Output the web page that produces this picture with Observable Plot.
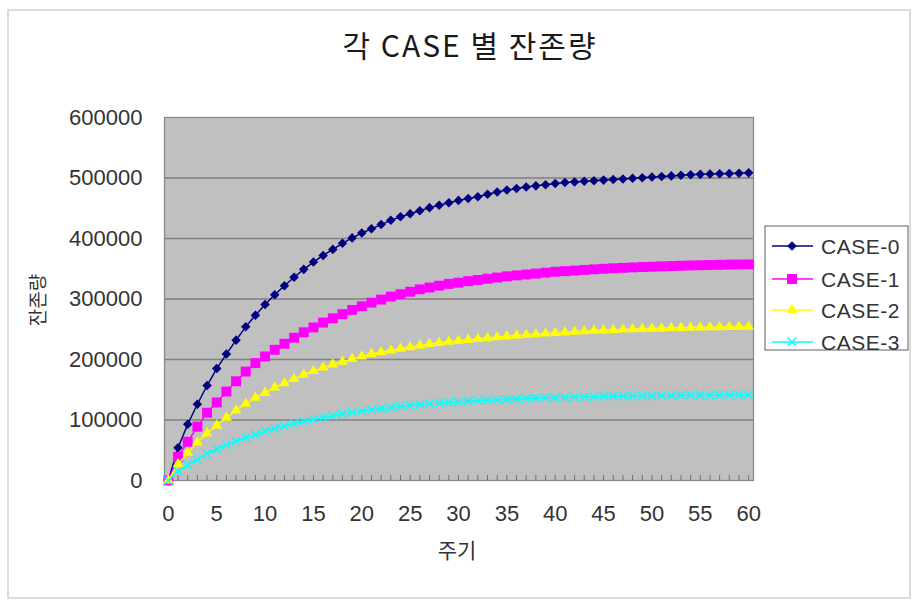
<!DOCTYPE html>
<html>
<head>
<meta charset="utf-8">
<script src="https://cdn.jsdelivr.net/npm/d3@7"></script>
<script src="https://cdn.jsdelivr.net/npm/@observablehq/plot@0.6"></script>
<style>
  html, body { margin: 0; padding: 0; background: #fff; }
  #chart { position: relative; width: 913px; height: 604px; }
  #chart svg text.tick-lbl { letter-spacing: 1.5px; }
</style>
</head>
<body>
<div id="chart"></div>
<script>
// ---- data ----
const periods = [0,1,2,3,4,5,6,7,8,9,10,11,12,13,14,15,16,17,18,19,20,21,22,23,24,25,26,27,28,29,30,
  31,32,33,34,35,36,37,38,39,40,41,42,43,44,45,46,47,48,49,50,51,52,53,54,55,56,57,58,59,60];

const case0 = [0,54000,93000,126000,157000,185000,209000,232000,254000,273000,291000,307000,322000,336000,349000,361000,
  372000,382000,392000,401000,409000,416000,423000,430000,436000,441000,446000,451000,455000,459000,463000,
  466000,469000,473000,477000,480000,482500,485000,487000,489000,491000,492500,493500,494500,495500,496500,
  497500,498500,499500,500500,501500,502500,503500,504500,505500,506000,506500,507000,507500,508000,508500];

const case1 = [0,39000,64000,89000,112000,129000,147000,164000,180000,194000,205000,216000,226000,236000,245000,253000,
  261000,268000,275000,282000,288000,294000,299000,304000,308000,312000,316000,319000,322000,325000,327000,
  329500,331500,333500,335500,337500,339000,340500,342000,343500,345000,346000,347000,348000,349000,350000,
  350800,351500,352200,352800,353400,354000,354500,355000,355400,355800,356200,356500,356800,357000,357200];

const case2 = [0,27000,46000,63000,78000,91000,104000,116000,127000,137000,145000,154000,161000,168000,175000,181000,
  187000,192000,196500,201000,205000,209000,212000,215000,218000,220500,223000,225500,227500,229500,231000,
  232500,234000,235500,237000,238300,239500,240700,241800,243000,244000,245000,246000,246800,247600,248300,
  249000,249600,250200,250700,251200,251600,252000,252400,252700,253000,253300,253600,253800,254000,254200];

const case3 = [0,15000,26000,35000,44000,52000,59000,65000,71000,76000,81000,86000,90000,94000,98000,101000,
  104000,107000,110000,112500,115000,117000,119000,121000,122500,124000,125500,127000,128000,129000,130000,
  131000,132000,132800,133500,134200,134800,135400,136000,136500,137000,137400,137800,138200,138600,139000,
  139300,139600,139900,140100,140300,140500,140700,140900,141000,141200,141300,141400,141500,141600,141700];

const seriesNames = ["CASE-0", "CASE-1", "CASE-2", "CASE-3"];
const seriesValues = [case0, case1, case2, case3];
const seriesColors = ["#000080", "#ff00ff", "#ffff00", "#00ffff"];

const yTicks = [0, 100000, 200000, 300000, 400000, 500000, 600000];
const xTicks = [0, 5, 10, 15, 20, 25, 30, 35, 40, 45, 50, 55, 60];

const titleText = "각 CASE 별 잔존량";
const xTitle = "주기";
const yTitle = "잔존량";

// ---- presentation ----
const symbols = [d3.symbolDiamond2 || "diamond", d3.symbolSquare, d3.symbolTriangle, d3.symbolTimes];
const symbolR = [4.3, 5.6, 4.0, 3.8];
const latin = "'Liberation Sans', Arial, 'Noto Sans CJK KR', sans-serif";
const hangul = "'Noto Sans CJK KR', 'Liberation Sans', sans-serif";

const rows = seriesValues.map((vals, i) => periods.map((t, j) => ({t, v: vals[j], s: seriesNames[i]})));

const marks = [
  Plot.frame({fill: "#c0c0c0", stroke: null}),
  Plot.gridY(yTicks.filter(d => d > 0 && d < 600000), {stroke: "#808080", strokeOpacity: 1, strokeWidth: 1.3}),
  Plot.frame({stroke: "#8a8a8a", strokeWidth: 1.3}),
  Plot.axisX(periods, {tickSize: -5, tickFormat: () => "", stroke: "#707070", strokeWidth: 1}),
  Plot.axisX(xTicks, {tickSize: 0, tickPadding: 25, fontSize: 22, fill: "#333", className: "tick-lbl", fontFamily: latin}),
  Plot.axisY(yTicks, {tickSize: 0, tickPadding: 22, fontSize: 22, fill: "#333", tickFormat: d3.format("d"), className: "tick-lbl", fontFamily: latin})
];
rows.forEach((r, i) => {
  marks.push(Plot.line(r, {x: "t", y: "v", stroke: seriesColors[i], strokeWidth: 1.5}));
  if (i === 3) {
    marks.push(Plot.dot(r, {x: "t", y: "v", symbol: symbols[i], r: symbolR[i], stroke: seriesColors[i], strokeWidth: 1.5, fill: "none"}));
  } else {
    marks.push(Plot.dot(r, {x: "t", y: "v", symbol: symbols[i], r: symbolR[i], fill: seriesColors[i], stroke: "none"}));
  }
});

const plot = Plot.plot({
  width: 913,
  height: 604,
  marginLeft: 164,
  marginRight: 160,
  marginTop: 117,
  marginBottom: 124,
  style: {fontFamily: latin, background: "transparent", overflow: "visible"},
  x: {domain: [-0.4, 60.5], label: null},
  y: {domain: [0, 600000], label: null},
  marks
});

document.getElementById("chart").appendChild(plot);

// ---- title, axis titles, border, legend ----
const svg = d3.select(plot);

svg.insert("rect", ":first-child")
  .attr("x", 8).attr("y", 10).attr("width", 902).attr("height", 588)
  .attr("fill", "#fff").attr("stroke", "#cfcfcf").attr("stroke-width", 1.5);

svg.append("text")
  .attr("x", 470).attr("y", 57)
  .attr("text-anchor", "middle")
  .style("font-family", hangul).style("font-size", "30px").style("letter-spacing", "2px")
  .attr("fill", "#1a1a1a")
  .text(titleText);

svg.append("text")
  .attr("x", 457).attr("y", 558)
  .attr("text-anchor", "middle")
  .style("font-family", hangul).style("font-size", "21px")
  .attr("fill", "#333")
  .text(xTitle);

svg.append("text")
  .attr("transform", "translate(45,300) rotate(-90)")
  .attr("text-anchor", "middle")
  .style("font-family", hangul).style("font-size", "19px")
  .attr("fill", "#333")
  .text(yTitle);

const lg = svg.append("g");
lg.append("rect")
  .attr("x", 765).attr("y", 226).attr("width", 143).attr("height", 124)
  .attr("fill", "#fff").attr("stroke", "#7a7a7a").attr("stroke-width", 1.2);
const legendY = [246, 279, 310, 342];
seriesNames.forEach((name, i) => {
  const y = legendY[i];
  lg.append("line").attr("x1", 772).attr("x2", 813).attr("y1", y).attr("y2", y)
    .attr("stroke", seriesColors[i]).attr("stroke-width", 1.5);
  const size = Math.PI * symbolR[i] * symbolR[i];
  const p = lg.append("path")
    .attr("transform", `translate(792,${y})`)
    .attr("d", d3.symbol(typeof symbols[i] === "string" ? d3.symbolDiamond : symbols[i], size)());
  if (i === 3) p.attr("fill", "none").attr("stroke", seriesColors[i]).attr("stroke-width", 1.5);
  else p.attr("fill", seriesColors[i]);
  lg.append("text")
    .attr("x", 821).attr("y", y).attr("dy", "0.36em")
    .attr("text-anchor", "start")
    .style("font-family", latin).style("font-size", "21px").style("letter-spacing", "0.5px")
    .attr("fill", "#333")
    .text(name);
});
</script>
</body>
</html>
